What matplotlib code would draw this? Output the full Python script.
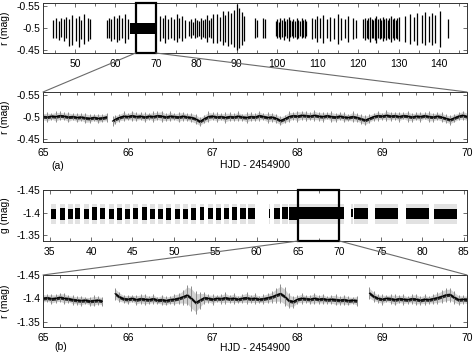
import matplotlib
matplotlib.use("Agg")
import matplotlib.pyplot as plt
from matplotlib.patches import Rectangle, ConnectionPatch
from matplotlib.ticker import MultipleLocator, FuncFormatter

W, H = 473, 355

# ---------------------------------------------------------------------------
# (a) r band, nightly runs (HJD - 2454900): time, top (brightest) and bottom
# ---------------------------------------------------------------------------
r_night_t = [
    44.6, 45.3, 46.0, 46.6, 47.3, 47.9, 48.6, 49.3, 50.2, 50.9, 51.6, 52.3, 53.1, 53.8,
    57.8, 58.4, 59.0, 59.7, 60.3, 61.0, 61.7, 62.4, 63.0,
    71.0, 71.7, 72.3, 73.0, 73.7, 74.4, 75.1, 75.8, 76.5, 77.1,
    78.1, 78.6, 79.1, 79.6, 80.1, 80.6, 81.1, 81.6, 82.1, 82.6, 83.1, 83.6, 84.1,
    85.1, 85.8, 86.5, 87.2, 87.9, 88.6, 89.3, 90.0, 90.6, 91.3, 91.9,
    94.5, 94.9, 96.5, 97.0,
    99.6, 100.0, 100.4, 100.8, 101.2, 101.6, 102.0, 102.4, 102.8, 103.2,
    103.6, 104.0, 104.4, 104.8, 105.2, 105.6, 106.0, 106.4, 106.8, 107.2,
    108.5, 109.3, 109.9, 110.6, 111.4, 112.2, 113.1, 114.0, 114.9, 115.7,
    116.8, 117.6, 118.8, 119.5,
    121.3, 121.7, 122.1, 122.5, 122.9, 123.3, 123.7, 124.1, 124.5, 124.9,
    125.3, 125.7, 126.1, 126.5, 126.9, 127.3, 127.7, 128.1, 128.5, 128.9,
    129.3, 129.7, 130.1,
    131.6, 132.8, 133.7, 134.6, 135.7, 136.5, 137.4, 138.2, 139.0, 140.3,
    142.2,
]
r_night_top = [
    -0.518, -0.522, -0.515, -0.524, -0.520, -0.526, -0.520, -0.530, -0.522, -0.527, -0.519, -0.532, -0.524, -0.520,
    -0.518, -0.524, -0.520, -0.528, -0.522, -0.530, -0.524, -0.533, -0.520,
    -0.528, -0.522, -0.530, -0.520, -0.526, -0.520, -0.532, -0.522, -0.528, -0.518,
    -0.516, -0.520, -0.514, -0.522, -0.518, -0.516, -0.524, -0.518, -0.520, -0.530, -0.518, -0.522, -0.532,
    -0.532, -0.526, -0.538, -0.530, -0.540, -0.534, -0.542, -0.556, -0.545, -0.536, -0.528,
    -0.522, -0.518, -0.524, -0.520,
    -0.516, -0.520, -0.514, -0.522, -0.518, -0.524, -0.516, -0.520, -0.526, -0.518,
    -0.515, -0.521, -0.517, -0.523, -0.519, -0.516, -0.522, -0.518, -0.520, -0.516,
    -0.524, -0.520, -0.528, -0.522, -0.530, -0.520, -0.526, -0.522, -0.532, -0.524,
    -0.520, -0.528, -0.522, -0.518,
    -0.520, -0.524, -0.518, -0.522, -0.526, -0.520, -0.518, -0.524, -0.528, -0.520,
    -0.522, -0.518, -0.526, -0.520, -0.524, -0.518, -0.522, -0.528, -0.520, -0.524,
    -0.518, -0.522, -0.526,
    -0.528, -0.532, -0.526, -0.534, -0.530, -0.536, -0.528, -0.534, -0.530, -0.540,
    -0.520,
]
r_night_bot = [
    -0.478, -0.476, -0.472, -0.480, -0.470, -0.476, -0.458, -0.462, -0.470, -0.456, -0.474, -0.464, -0.470, -0.474,
    -0.478, -0.476, -0.470, -0.474, -0.468, -0.472, -0.478, -0.466, -0.475,
    -0.470, -0.476, -0.466, -0.474, -0.478, -0.472, -0.468, -0.476, -0.470, -0.478,
    -0.482, -0.478, -0.484, -0.476, -0.480, -0.482, -0.474, -0.480, -0.478, -0.468, -0.480, -0.476, -0.466,
    -0.466, -0.470, -0.462, -0.468, -0.458, -0.464, -0.456, -0.450, -0.454, -0.462, -0.470,
    -0.476, -0.480, -0.476, -0.478,
    -0.482, -0.478, -0.480, -0.474, -0.480, -0.472, -0.482, -0.476, -0.470, -0.480,
    -0.482, -0.476, -0.480, -0.474, -0.478, -0.482, -0.476, -0.480, -0.478, -0.482,
    -0.474, -0.478, -0.468, -0.476, -0.466, -0.476, -0.470, -0.474, -0.464, -0.472,
    -0.476, -0.468, -0.474, -0.478,
    -0.476, -0.472, -0.478, -0.474, -0.468, -0.476, -0.478, -0.472, -0.466, -0.476,
    -0.474, -0.478, -0.470, -0.476, -0.472, -0.478, -0.474, -0.468, -0.476, -0.472,
    -0.478, -0.474, -0.470,
    -0.468, -0.464, -0.470, -0.462, -0.466, -0.460, -0.468, -0.462, -0.466, -0.456,
    -0.478,
]
# continuous multi-site run
r_block_start, r_block_end = 63.6, 70.2
r_block_top, r_block_bot = -0.512, -0.486

# (a) zoom: r band 65-70, two runs: mean level and scatter half width
r_zoom_t1 = [65.00, 65.05, 65.10, 65.15, 65.20, 65.25, 65.30, 65.35,
             65.40, 65.45, 65.50, 65.55, 65.60, 65.65, 65.70, 65.75]
r_zoom_m1 = [-0.501, -0.500, -0.502, -0.501, -0.503, -0.502, -0.500, -0.501,
             -0.499, -0.500, -0.498, -0.497, -0.499, -0.497, -0.498, -0.500]
r_zoom_s1 = [0.009, 0.011, 0.008, 0.012, 0.010, 0.009, 0.012, 0.008,
             0.011, 0.009, 0.012, 0.010, 0.008, 0.011, 0.009, 0.010]
r_zoom_t2 = [65.82, 65.85, 65.90, 65.95, 66.00, 66.05, 66.10, 66.15, 66.20, 66.25,
             66.30, 66.35, 66.40, 66.45, 66.50, 66.55, 66.60, 66.65, 66.70, 66.75,
             66.80, 66.85, 66.90, 66.95, 67.00, 67.05, 67.10, 67.15, 67.20, 67.25,
             67.30, 67.35, 67.40, 67.45, 67.50, 67.55, 67.60, 67.65, 67.70, 67.75,
             67.80, 67.85, 67.90, 67.95, 68.00, 68.05, 68.10, 68.15, 68.20, 68.25,
             68.30, 68.35, 68.40, 68.45, 68.50, 68.55, 68.60, 68.65, 68.70, 68.75,
             68.80, 68.85, 68.90, 68.95, 69.00, 69.05, 69.10, 69.15, 69.20, 69.25,
             69.30, 69.35, 69.40, 69.45, 69.50, 69.55, 69.60, 69.65, 69.70, 69.75,
             69.80, 69.85, 69.90, 69.95, 70.00]
r_zoom_m2 = [-0.491, -0.495, -0.499, -0.502, -0.501, -0.503, -0.501, -0.502, -0.500, -0.502,
             -0.501, -0.503, -0.502, -0.500, -0.502, -0.501, -0.500, -0.502, -0.500, -0.499,
             -0.496, -0.490, -0.496, -0.501, -0.502, -0.500, -0.501, -0.499, -0.501, -0.500,
             -0.502, -0.500, -0.499, -0.501, -0.500, -0.503, -0.501, -0.499, -0.500, -0.497,
             -0.492, -0.496, -0.501, -0.503, -0.502, -0.504, -0.503, -0.502, -0.504, -0.502,
             -0.501, -0.503, -0.501, -0.500, -0.502, -0.500, -0.499, -0.501, -0.499, -0.496,
             -0.493, -0.497, -0.501, -0.503, -0.502, -0.504, -0.502, -0.503, -0.501, -0.503,
             -0.502, -0.500, -0.502, -0.501, -0.503, -0.501, -0.500, -0.502, -0.500, -0.497,
             -0.494, -0.498, -0.502, -0.504, -0.501]
r_zoom_s2 = [0.012, 0.010, 0.009, 0.011, 0.008, 0.012, 0.010, 0.009, 0.011, 0.008,
             0.012, 0.010, 0.013, 0.009, 0.011, 0.008, 0.012, 0.010, 0.009, 0.011,
             0.012, 0.011, 0.010, 0.012, 0.009, 0.011, 0.008, 0.012, 0.010, 0.009,
             0.011, 0.008, 0.012, 0.010, 0.009, 0.011, 0.008, 0.012, 0.010, 0.011,
             0.011, 0.010, 0.012, 0.009, 0.013, 0.010, 0.011, 0.009, 0.012, 0.010,
             0.011, 0.008, 0.012, 0.010, 0.009, 0.011, 0.008, 0.012, 0.010, 0.011,
             0.012, 0.010, 0.009, 0.011, 0.008, 0.012, 0.010, 0.009, 0.011, 0.008,
             0.012, 0.010, 0.009, 0.011, 0.008, 0.012, 0.010, 0.009, 0.011, 0.010,
             0.011, 0.010, 0.009, 0.011, 0.010]
r_zoom_core = 0.0035    # half width of the dense core

# ---------------------------------------------------------------------------
# (b) g band, observing segments: start, end, core top/bottom, scatter limits
# ---------------------------------------------------------------------------
g_seg_start = [35.2, 36.2, 37.2, 38.1, 39.1, 40.1, 41.1, 42.2, 43.1, 44.1,
               45.1, 46.1, 47.1, 48.1, 49.1, 50.1, 51.1, 52.1, 53.1, 54.1,
               55.1, 56.1, 57.0, 58.0, 59.0, 61.45, 62.05, 63.0, 63.9, 64.9,
               71.45, 71.8, 74.3, 78.0, 81.4]
g_seg_end = [35.8, 36.8, 37.8, 38.7, 39.7, 40.7, 41.7, 42.8, 43.7, 44.7,
             45.7, 46.7, 47.7, 48.7, 49.7, 50.7, 51.7, 52.7, 53.7, 54.7,
             55.7, 56.7, 57.6, 58.7, 59.8, 61.65, 62.8, 63.8, 64.9, 70.5,
             71.6, 73.4, 77.1, 80.8, 84.2]
g_core_top = [-1.409, -1.411, -1.408, -1.410, -1.409, -1.413, -1.410, -1.409, -1.410, -1.409,
              -1.411, -1.412, -1.409, -1.408, -1.410, -1.409, -1.408, -1.411, -1.412, -1.411,
              -1.410, -1.411, -1.412, -1.410, -1.411, -1.409, -1.411, -1.412, -1.412, -1.412,
              -1.408, -1.411, -1.410, -1.410, -1.409]
g_core_bot = [-1.385, -1.384, -1.386, -1.385, -1.386, -1.384, -1.385, -1.385, -1.384, -1.385,
              -1.385, -1.384, -1.386, -1.385, -1.384, -1.385, -1.386, -1.384, -1.384, -1.385,
              -1.384, -1.385, -1.384, -1.386, -1.385, -1.388, -1.385, -1.385, -1.384, -1.386,
              -1.390, -1.386, -1.387, -1.387, -1.387]
g_scat_top = -1.420
g_scat_bot = -1.374

# (b) zoom: 65-70, three runs, mean level and scatter half width
b_zoom_t1 = [65.00, 65.05, 65.10, 65.15, 65.20, 65.25, 65.30, 65.35,
             65.40, 65.45, 65.50, 65.55, 65.60, 65.65, 65.70]
b_zoom_m1 = [-1.400, -1.401, -1.399, -1.400, -1.402, -1.400, -1.399, -1.397,
             -1.396, -1.395, -1.396, -1.394, -1.395, -1.396, -1.394]
b_zoom_s1 = [0.010, 0.008, 0.011, 0.009, 0.010, 0.012, 0.008, 0.010,
             0.009, 0.011, 0.008, 0.010, 0.012, 0.009, 0.010]
b_zoom_t2 = [65.85, 65.90, 65.95, 66.00, 66.05, 66.10, 66.15, 66.20, 66.25, 66.30,
             66.35, 66.40, 66.45, 66.50, 66.55, 66.60, 66.65, 66.70, 66.75, 66.80,
             66.85, 66.90, 66.95, 67.00, 67.05, 67.10, 67.15, 67.20, 67.25, 67.30,
             67.35, 67.40, 67.45, 67.50, 67.55, 67.60, 67.65, 67.70, 67.75, 67.80,
             67.85, 67.90, 67.95, 68.00, 68.05, 68.10, 68.15, 68.20, 68.25, 68.30,
             68.35, 68.40, 68.45, 68.50, 68.55, 68.60, 68.65, 68.70]
b_zoom_m2 = [-1.410, -1.403, -1.399, -1.398, -1.400, -1.397, -1.399, -1.398, -1.397, -1.399,
             -1.396, -1.397, -1.395, -1.397, -1.398, -1.400, -1.403, -1.407, -1.400, -1.391,
             -1.396, -1.401, -1.400, -1.398, -1.400, -1.399, -1.401, -1.399, -1.400, -1.398,
             -1.400, -1.401, -1.399, -1.400, -1.398, -1.399, -1.401, -1.403, -1.407, -1.410,
             -1.404, -1.395, -1.393, -1.398, -1.400, -1.399, -1.398, -1.400, -1.398, -1.399,
             -1.397, -1.398, -1.397, -1.396, -1.397, -1.395, -1.396, -1.395]
b_zoom_s2 = [0.013, 0.011, 0.009, 0.010, 0.008, 0.011, 0.010, 0.012, 0.009, 0.010,
             0.008, 0.011, 0.010, 0.009, 0.012, 0.012, 0.016, 0.022, 0.026, 0.024,
             0.018, 0.012, 0.009, 0.011, 0.008, 0.010, 0.012, 0.009, 0.011, 0.008,
             0.010, 0.012, 0.009, 0.011, 0.008, 0.010, 0.011, 0.012, 0.016, 0.020,
             0.020, 0.016, 0.013, 0.009, 0.011, 0.008, 0.010, 0.012, 0.009, 0.011,
             0.008, 0.010, 0.012, 0.009, 0.011, 0.010, 0.008, 0.011]
b_zoom_t3 = [68.85, 68.90, 68.95, 69.00, 69.05, 69.10, 69.15, 69.20, 69.25, 69.30,
             69.35, 69.40, 69.45, 69.50, 69.55, 69.60, 69.65, 69.70, 69.75, 69.80,
             69.85, 69.90, 69.95, 70.00]
b_zoom_m3 = [-1.411, -1.404, -1.400, -1.398, -1.400, -1.399, -1.397, -1.399, -1.398, -1.397,
             -1.399, -1.398, -1.396, -1.398, -1.397, -1.399, -1.401, -1.404, -1.407, -1.408,
             -1.402, -1.397, -1.398, -1.397]
b_zoom_s3 = [0.013, 0.011, 0.009, 0.011, 0.008, 0.010, 0.012, 0.009, 0.011, 0.008,
             0.010, 0.012, 0.009, 0.011, 0.008, 0.011, 0.012, 0.014, 0.015, 0.015,
             0.013, 0.011, 0.009, 0.010]
b_zoom_core = 0.0035

# ---------------------------------------------------------------------------
FS = 7.5
plt.rcParams.update({
    "font.family": ["Liberation Sans", "DejaVu Sans"],
    "font.size": FS,
    "axes.linewidth": 0.7,
    "axes.edgecolor": "#333333",
})

fig = plt.figure(figsize=(W / 100, H / 100), dpi=100)


def px_axes(left, top, right, bottom):
    return fig.add_axes([left / W, 1 - bottom / H, (right - left) / W, (bottom - top) / H])


def style(ax, major, minor, yticks, ylabels, ylabel):
    ax.xaxis.set_major_locator(MultipleLocator(major))
    ax.xaxis.set_minor_locator(MultipleLocator(minor))
    ax.xaxis.set_major_formatter(FuncFormatter(lambda v, _: f"{v:g}"))
    ax.set_yticks(yticks)
    ax.set_yticklabels(ylabels)
    ax.tick_params(which="both", direction="in", top=True, right=True,
                   width=0.5, color="#333333", labelsize=FS)
    ax.tick_params(which="major", length=3)
    ax.tick_params(which="minor", length=2)
    ax.tick_params(axis="x", pad=4)
    ax.tick_params(axis="y", pad=2)
    ax.set_ylabel(ylabel, fontsize=FS)
    ax.yaxis.set_label_coords(-0.078, 0.5)


def zoom_band(ax, t, m, s, core):
    # grey scatter of the single points, streaky like the raw data
    ax.fill_between(t, [a - b * 0.8 for a, b in zip(m, s)],
                    [a + b * 0.8 for a, b in zip(m, s)], color="#d2d2d2", lw=0)
    ax.vlines(t, [a - b for a, b in zip(m, s)], [a + b for a, b in zip(m, s)],
              color="#8c8c8c", lw=0.7)
    # dense dark core
    ax.fill_between(t, [a - core for a in m], [a + core for a in m],
                    color="#2a2a2a", lw=0)
    ax.plot(t, m, color="black", lw=0.8)


def zoom_box(ax_top, ax_zoom, x0, x1):
    y0, y1 = ax_top.get_ylim()
    ax_top.add_patch(Rectangle((x0, y0), x1 - x0, y1 - y0, fill=False,
                               edgecolor="black", lw=1.6, clip_on=False, zorder=5))
    zy = ax_zoom.get_ylim()[1]
    for x, xz in ((x0, ax_zoom.get_xlim()[0]), (x1, ax_zoom.get_xlim()[1])):
        con = ConnectionPatch(xyA=(x, y0), coordsA=ax_top.transData,
                              xyB=(xz, zy), coordsB=ax_zoom.transData,
                              color="#6a6a6a", lw=0.8)
        fig.add_artist(con)


# ---- panel (a) overview ----
ax1 = px_axes(43, 3, 467, 53)
ax1.vlines(r_night_t, r_night_top, r_night_bot, color="black", lw=0.9)
ax1.fill_between([r_block_start, r_block_end], r_block_top, r_block_bot,
                 color="black", lw=0)
ax1.set_xlim(42.1, 146.9)
ax1.set_ylim(-0.4425, -0.5575)
style(ax1, 10, 5, [-0.55, -0.5, -0.45], ["-0.55", "-0.5", "-0.45"], "r (mag)")

# ---- panel (a) zoom ----
ax2 = px_axes(43, 92, 467, 142)
zoom_band(ax2, r_zoom_t1, r_zoom_m1, r_zoom_s1, r_zoom_core)
zoom_band(ax2, r_zoom_t2, r_zoom_m2, r_zoom_s2, r_zoom_core)
ax2.set_xlim(65, 70)
ax2.set_ylim(-0.4432, -0.5575)
style(ax2, 1, 0.2, [-0.55, -0.5, -0.45], ["-0.55", "-0.5", "-0.45"], "r (mag)")
zoom_box(ax1, ax2, 65, 70)

# ---- panel (b) overview ----
ax3 = px_axes(43, 190, 467, 241)
widths = [e - s for s, e in zip(g_seg_start, g_seg_end)]
ax3.bar(g_seg_start, [g_scat_bot - g_scat_top] * len(widths), width=widths,
        bottom=g_scat_top, align="edge", color="#e2e2e2", lw=0)
ax3.bar(g_seg_start, [b - t for t, b in zip(g_core_top, g_core_bot)], width=widths,
        bottom=g_core_top, align="edge", color="black", lw=0)
ax3.set_xlim(34.2, 85.4)
ax3.set_ylim(-1.3367, -1.451)
style(ax3, 5, 2.5, [-1.45, -1.4, -1.35], ["-1.45", "-1.4", "-1.35"], "g (mag)")

# ---- panel (b) zoom ----
ax4 = px_axes(43, 275, 467, 327)
zoom_band(ax4, b_zoom_t1, b_zoom_m1, b_zoom_s1, b_zoom_core)
zoom_band(ax4, b_zoom_t2, b_zoom_m2, b_zoom_s2, b_zoom_core)
zoom_band(ax4, b_zoom_t3, b_zoom_m3, b_zoom_s3, b_zoom_core)
ax4.set_xlim(65, 70)
ax4.set_ylim(-1.339, -1.45)
style(ax4, 1, 0.2, [-1.45, -1.4, -1.35], ["-1.45", "-1.4", "-1.35"], "r (mag)")
zoom_box(ax3, ax4, 65, 70)

# labels
fig.text(255 / W, 1 - 165 / H, "HJD - 2454900", ha="center", va="center", fontsize=FS)
fig.text(255 / W, 1 - 348 / H, "HJD - 2454900", ha="center", va="center", fontsize=FS)
fig.text(58 / W, 1 - 166 / H, "(a)", ha="center", va="center", fontsize=FS)
fig.text(61 / W, 1 - 347 / H, "(b)", ha="center", va="center", fontsize=FS)

fig.savefig("out.png", dpi=100)
